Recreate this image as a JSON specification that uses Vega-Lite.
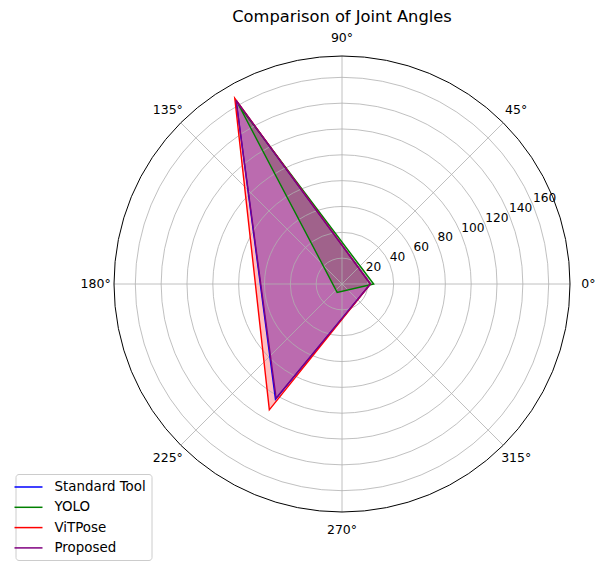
{
  "$schema": "https://vega.github.io/schema/vega-lite/v6.json",
  "width": 456,
  "height": 456,
  "autosize": {"type": "none"},
  "padding": {"left": 114, "top": 56, "right": 27, "bottom": 51},
  "background": "white",
  "title": {"text": "Comparison of Joint Angles", "fontSize": 16.3, "font": "DejaVu Sans", "fontWeight": "normal", "baseline": "alphabetic", "frame": "group", "offset": -7, "color": "black"},
  "config": {"view": {"stroke": null}, "font": "DejaVu Sans"},
  "datasets": {
    "scores": [
      {"series": "Standard Tool", "idx": 0, "theta": 0, "r": 22},
      {"series": "Standard Tool", "idx": 1, "theta": 120, "r": 164},
      {"series": "Standard Tool", "idx": 2, "theta": 240, "r": 103},
      {"series": "YOLO", "idx": 0, "theta": 0, "r": 24.5},
      {"series": "YOLO", "idx": 1, "theta": 120, "r": 160},
      {"series": "YOLO", "idx": 2, "theta": 240, "r": 7.5},
      {"series": "ViTPose", "idx": 0, "theta": 0, "r": 22},
      {"series": "ViTPose", "idx": 1, "theta": 120, "r": 166},
      {"series": "ViTPose", "idx": 2, "theta": 240, "r": 112.5},
      {"series": "Proposed", "idx": 0, "theta": 0, "r": 22},
      {"series": "Proposed", "idx": 1, "theta": 120, "r": 164},
      {"series": "Proposed", "idx": 2, "theta": 240, "r": 102}
    ],
    "rings": [{"r": 20}, {"r": 40}, {"r": 60}, {"r": 80}, {"r": 100}, {"r": 120}, {"r": 140}, {"r": 160}],
    "outer": [{"r": 176.5}],
    "spokes": [
      {"deg": 0, "label": "0°"}, {"deg": 45, "label": "45°"}, {"deg": 90, "label": "90°"}, {"deg": 135, "label": "135°"},
      {"deg": 180, "label": "180°"}, {"deg": 225, "label": "225°"}, {"deg": 270, "label": "270°"}, {"deg": 315, "label": "315°"}
    ]
  },
  "encoding": {
    "x": {"field": "px", "type": "quantitative", "scale": {"domain": [-176.5, 176.5], "nice": false, "zero": false}, "axis": null},
    "y": {"field": "py", "type": "quantitative", "scale": {"domain": [-176.5, 176.5], "nice": false, "zero": false}, "axis": null}
  },
  "layer": [
    {
      "data": {"name": "scores"},
      "transform": [
        {"calculate": "datum.r*cos(datum.theta*PI/180)", "as": "px"},
        {"calculate": "datum.r*sin(datum.theta*PI/180)", "as": "py"}
      ],
      "mark": {"type": "line", "interpolate": "linear-closed", "fillOpacity": 0.25, "strokeOpacity": 0},
      "encoding": {
        "fill": {"field": "series", "type": "nominal", "scale": {"domain": ["Standard Tool", "YOLO", "ViTPose", "Proposed"], "range": ["#0000ff", "#008000", "#ff0000", "#800080"]},
          "legend": {"orient": "none", "legendX": -98.5, "legendY": 418, "title": null, "symbolType": "M-2,0H2", "symbolSize": 196, "symbolStrokeWidth": 1.5,
            "labelFontSize": 13.4, "labelFont": "DejaVu Sans", "labelColor": "black", "fillColor": "white", "strokeColor": "#cccccc", "cornerRadius": 3, "padding": 5, "labelOffset": 18, "rowPadding": 5.3}},
        "order": {"field": "idx", "type": "quantitative"}
      }
    },
    {
      "data": {"name": "rings"},
      "transform": [
        {"calculate": "0", "as": "px"},
        {"calculate": "0", "as": "py"}
      ],
      "mark": {"type": "point", "shape": "circle", "filled": false, "color": "#b0b0b0", "strokeWidth": 0.8, "opacity": 1},
      "encoding": {
        "size": {"field": "r", "type": "quantitative", "scale": {"type": "pow", "exponent": 2, "domain": [0, 176.5], "range": [0, 207936]}, "legend": null}
      }
    },
    {
      "data": {"name": "spokes"},
      "transform": [
        {"calculate": "0", "as": "px"},
        {"calculate": "0", "as": "py"},
        {"calculate": "176.5*cos(datum.deg*PI/180)", "as": "px2"},
        {"calculate": "176.5*sin(datum.deg*PI/180)", "as": "py2"}
      ],
      "mark": {"type": "rule", "color": "#b0b0b0", "strokeWidth": 0.8},
      "encoding": {
        "x2": {"field": "px2"},
        "y2": {"field": "py2"}
      }
    },
    {
      "data": {"name": "scores"},
      "transform": [
        {"calculate": "datum.r*cos(datum.theta*PI/180)", "as": "px"},
        {"calculate": "datum.r*sin(datum.theta*PI/180)", "as": "py"}
      ],
      "mark": {"type": "line", "interpolate": "linear-closed", "strokeWidth": 1.4},
      "encoding": {
        "stroke": {"field": "series", "type": "nominal", "scale": {"domain": ["Standard Tool", "YOLO", "ViTPose", "Proposed"], "range": ["#0000ff", "#008000", "#ff0000", "#800080"]},
          "legend": {"orient": "none", "legendX": -98.5, "legendY": 418, "title": null, "symbolType": "M-2,0H2", "symbolSize": 196, "symbolStrokeWidth": 1.5,
            "labelFontSize": 13.4, "labelFont": "DejaVu Sans", "labelColor": "black", "fillColor": "white", "strokeColor": "#cccccc", "cornerRadius": 3, "padding": 5, "labelOffset": 18, "rowPadding": 5.3}},
        "order": {"field": "idx", "type": "quantitative"}
      }
    },
    {
      "data": {"name": "outer"},
      "transform": [
        {"calculate": "0", "as": "px"},
        {"calculate": "0", "as": "py"}
      ],
      "mark": {"type": "point", "shape": "circle", "filled": false, "color": "black", "strokeWidth": 1, "opacity": 1},
      "encoding": {
        "size": {"field": "r", "type": "quantitative", "scale": {"type": "pow", "exponent": 2, "domain": [0, 176.5], "range": [0, 207936]}, "legend": null}
      }
    },
    {
      "data": {"name": "spokes"},
      "transform": [
        {"calculate": "190.7*cos(datum.deg*PI/180)", "as": "px"},
        {"calculate": "190.7*sin(datum.deg*PI/180)", "as": "py"}
      ],
      "mark": {"type": "text", "align": "center", "baseline": "middle", "fontSize": 12.5, "font": "DejaVu Sans", "color": "black"},
      "encoding": {"text": {"field": "label"}}
    },
    {
      "data": {"name": "rings"},
      "transform": [
        {"calculate": "datum.r*cos(22.5*PI/180)", "as": "px"},
        {"calculate": "datum.r*sin(22.5*PI/180)", "as": "py"}
      ],
      "mark": {"type": "text", "align": "left", "baseline": "bottom", "fontSize": 12.2, "font": "DejaVu Sans", "color": "black"},
      "encoding": {"text": {"field": "r", "type": "quantitative"}}
    }
  ]
}
